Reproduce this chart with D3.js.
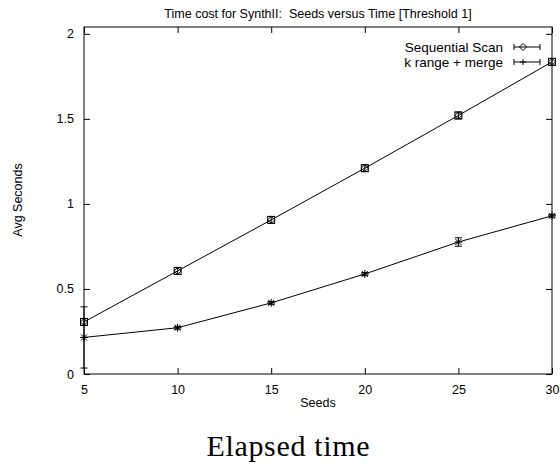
<!DOCTYPE html>
<html>
<head>
<meta charset="utf-8">
<script src="https://cdn.jsdelivr.net/npm/d3@7"></script>
<style>
  body { margin: 0; background: #fff; }
  text { font-family: "Liberation Sans", Arial, sans-serif; fill: #000; }
  .axis line, .axis path { stroke: #000; }
</style>
</head>
<body>
<div id="chart"></div>
<script>
// data
var seeds = [5, 10, 15, 20, 25, 30];
var seqScan = [0.306, 0.606, 0.906, 1.21, 1.52, 1.835];
var seqErr = [0.02, 0.02, 0.02, 0.02, 0.02, 0.02];
var kRange = [0.215, 0.272, 0.418, 0.588, 0.776, 0.93];
var kErr = [0.18, 0.008, 0.008, 0.008, 0.025, 0.008];
var xTicks = [5, 10, 15, 20, 25, 30];
var yTicks = [0, 0.5, 1, 1.5, 2];
var yTickLabels = ["0", "0.5", "1", "1.5", "2"];

var totalWidth = 560, totalHeight = 468;
var margin = {left: 84, right: 8, top: 27, bottom: 94};
var width = totalWidth - margin.left - margin.right;
var height = totalHeight - margin.top - margin.bottom;

var svg = d3.select("#chart").append("svg")
  .attr("width", totalWidth)
  .attr("height", totalHeight);

var xScale = d3.scaleLinear().domain([5, 30]).range([0, width]);
var yScale = d3.scaleLinear().domain([0, 2.04]).range([height, 0]);

var g = svg.append("g")
  .attr("transform", "translate(" + margin.left + "," + margin.top + ")");

// frame
g.append("rect")
  .attr("width", width).attr("height", height)
  .attr("fill", "none").attr("stroke", "#000");

// axes, ticks pointing inwards like gnuplot
var tl = 6;
g.append("g").attr("class", "axis")
  .attr("transform", "translate(0," + height + ")")
  .call(d3.axisBottom(xScale).tickValues(xTicks).tickSizeInner(-tl).tickSizeOuter(0).tickPadding(tl + 5))
  .call(function(a) { a.select(".domain").remove(); a.selectAll("text").attr("font-size", 12.5); });
g.append("g").attr("class", "axis")
  .call(d3.axisTop(xScale).tickValues(xTicks).tickSizeInner(-tl).tickSizeOuter(0).tickFormat(""))
  .call(function(a) { a.select(".domain").remove(); });
g.append("g").attr("class", "axis")
  .call(d3.axisLeft(yScale).tickValues(yTicks).tickFormat(function(d, i) { return yTickLabels[i]; })
    .tickSizeInner(-tl).tickSizeOuter(0).tickPadding(tl + 4))
  .call(function(a) { a.select(".domain").remove(); a.selectAll("text").attr("font-size", 12.5); });
g.append("g").attr("class", "axis")
  .attr("transform", "translate(" + width + ",0)")
  .call(d3.axisRight(yScale).tickValues(yTicks).tickSizeInner(-tl).tickSizeOuter(0).tickFormat(""))
  .call(function(a) { a.select(".domain").remove(); });

// series
var series = [
  {name: "Sequential Scan", vals: seqScan, errs: seqErr, marker: "box", key: "diamond"},
  {name: "k range + merge", vals: kRange, errs: kErr, marker: "star", key: "plus"}
];

var line = d3.line()
  .x(function(d) { return xScale(d.x); })
  .y(function(d) { return yScale(d.y); });

var cap = 3.5;

function drawMarker(sel, type, x, y) {
  var s;
  if (type == "diamond" || type == "box") {
    s = 3.5;
    sel.append("path")
      .attr("d", "M" + (x - s) + "," + y + "L" + x + "," + (y - s) + "L" + (x + s) + "," + y + "L" + x + "," + (y + s) + "Z")
      .attr("fill", "none").attr("stroke", "#000");
    if (type == "box") {
      sel.append("rect")
        .attr("x", x - s).attr("y", y - s).attr("width", 2 * s).attr("height", 2 * s)
        .attr("fill", "none").attr("stroke", "#000");
    }
  } else if (type == "star") {
    s = 4;
    var d = 3;
    sel.append("path")
      .attr("d", "M" + (x - s) + "," + y + "H" + (x + s) + "M" + x + "," + (y - s) + "V" + (y + s) +
        "M" + (x - d) + "," + (y - d) + "L" + (x + d) + "," + (y + d) +
        "M" + (x - d) + "," + (y + d) + "L" + (x + d) + "," + (y - d))
      .attr("stroke", "#000");
  } else {
    s = 3;
    sel.append("path")
      .attr("d", "M" + (x - s) + "," + y + "H" + (x + s) + "M" + x + "," + (y - s) + "V" + (y + s))
      .attr("stroke", "#000");
  }
}

series.forEach(function(s) {
  var pts = seeds.map(function(x, i) { return {x: x, y: s.vals[i], e: s.errs[i]}; });
  g.append("path").datum(pts)
    .attr("d", line)
    .attr("fill", "none").attr("stroke", "#000");
  var eb = g.append("g");
  pts.forEach(function(p) {
    var px = xScale(p.x), lo = yScale(p.y - p.e), hi = yScale(p.y + p.e);
    eb.append("path")
      .attr("d", "M" + px + "," + lo + "V" + hi +
        "M" + (px - cap) + "," + lo + "H" + (px + cap) +
        "M" + (px - cap) + "," + hi + "H" + (px + cap))
      .attr("fill", "none").attr("stroke", "#000");
    drawMarker(eb, s.marker, px, yScale(p.y));
  });
});

// legend
var legend = g.append("g");
series.forEach(function(s, i) {
  var ly = 20 + i * 15;
  legend.append("text")
    .attr("x", 419).attr("y", ly).attr("dy", "0.35em")
    .attr("text-anchor", "end").attr("font-size", 13.5)
    .text(s.name);
  var x0 = 430, x1 = 456;
  legend.append("path")
    .attr("d", "M" + x0 + "," + ly + "H" + x1 + "M" + x0 + "," + (ly - 3) + "V" + (ly + 3) + "M" + x1 + "," + (ly - 3) + "V" + (ly + 3))
    .attr("stroke", "#000").attr("fill", "none");
  drawMarker(legend, s.key, (x0 + x1) / 2 - 4, ly);
});

// titles
svg.append("text")
  .attr("x", 318).attr("y", 18)
  .attr("text-anchor", "middle").attr("font-size", 12.5)
  .text("Time cost for SynthII:  Seeds versus Time [Threshold 1]")
  .style("white-space", "pre");
svg.append("text")
  .attr("x", 318).attr("y", 407)
  .attr("text-anchor", "middle").attr("font-size", 12.5)
  .text("Seeds");
svg.append("text")
  .attr("transform", "translate(22,200) rotate(-90)")
  .attr("text-anchor", "middle").attr("font-size", 12.5)
  .text("Avg Seconds");
svg.append("text")
  .attr("x", 288).attr("y", 456)
  .attr("text-anchor", "middle").attr("font-size", 30)
  .attr("textLength", 163).attr("lengthAdjust", "spacing")
  .style("font-family", "'Liberation Serif', 'DejaVu Serif', serif")
  .text("Elapsed time");
</script>
</body>
</html>
